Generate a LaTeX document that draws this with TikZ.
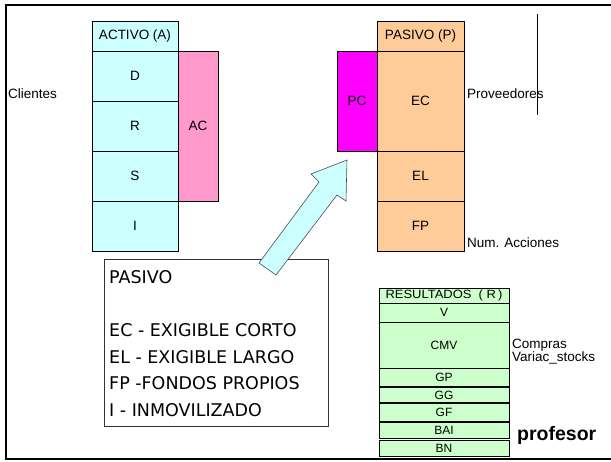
\documentclass[tikz,border=0pt]{standalone}
\usepackage{fontspec}
\setmainfont{Liberation Sans}
\newfontfamily\boxfont{DejaVu Sans}
\definecolor{acyan}{HTML}{CCFFFF}
\definecolor{apink}{HTML}{FF99CC}
\definecolor{amag}{HTML}{FF00FF}
\definecolor{aorange}{HTML}{FFCC99}
\definecolor{agreen}{HTML}{CCFFCC}
\tikzset{
  cell/.style={draw=black, line width=0.8pt, inner sep=0pt, outer sep=0pt, font=\fontsize{13.5}{15}\selectfont},
  rcell/.style={draw=black, line width=0.8pt, inner sep=0pt, outer sep=0pt, fill=agreen, minimum width=130pt, font=\fontsize{12}{13}\selectfont},
  lbl/.style={inner sep=0pt, anchor=west, font=\fontsize{13.5}{15}\selectfont},
  boxtxt/.style={inner sep=0pt, anchor=west, font=\boxfont\fontsize{17.5}{20}\selectfont},
}
\begin{document}
\begin{tikzpicture}[x=1pt,y=-1pt]
\useasboundingbox (0,0) rectangle (611,461);
\draw[line width=1.8pt] (6,5) rectangle (640,459);
% activo
\node[cell, fill=acyan, minimum width=86pt, minimum height=30pt] (ah) at (135,36) {ACTIVO (A)};
\node[cell, fill=acyan, minimum width=86pt, minimum height=50pt] (d) at (135,76) {D};
\node[cell, fill=acyan, minimum width=86pt, minimum height=50pt] (r) at (135,126) {R};
\node[cell, fill=acyan, minimum width=86pt, minimum height=50pt] (s) at (135,176) {S};
\node[cell, fill=acyan, minimum width=86pt, minimum height=50pt] (i) at (135,226) {I};
\node[cell, fill=apink, minimum width=40pt, minimum height=150pt] (ac) at (198,126) {AC};
% pasivo
\node[cell, fill=aorange, minimum width=87pt, minimum height=30pt] (ph) at (420.5,36) {PASIVO (P)};
\node[cell, fill=aorange, minimum width=87pt, minimum height=100pt] (ec) at (420.5,101) {EC};
\node[cell, fill=aorange, minimum width=87pt, minimum height=50pt] (el) at (420.5,176) {EL};
\node[cell, fill=aorange, minimum width=87pt, minimum height=50pt] (fp) at (420.5,226) {FP};
\node[cell, fill=amag, minimum width=40pt, minimum height=100pt] (pc) at (357,101) {PC};
% labels
\node[lbl] (cli) at (8,94) {Clientes};
\node[lbl] (prov) at (467,94) {Proveedores};
\node[lbl] (num) at (467,243) {Num. Acciones};
\node[lbl] (comp) at (512,345) {Compras};
\node[lbl] (var) at (512,358) {Variac\_stocks};
\node[inner sep=0pt, anchor=west, font=\fontsize{19.5}{22}\selectfont\bfseries] (prof) at (517,435) {profesor};
\coordinate (vt) at (537,14);
\coordinate (vb) at (537,115);
\draw[line width=0.8pt] (vt) -- (vb);
% resultados
\node[rcell, minimum height=15pt] (rh) at (444,295.5) {\scalebox{1.08}[1]{RESULTADOS\ \ ( R\,)}};
\node[rcell, minimum height=19pt] (rv) at (444,312.5) {V};
\node[rcell, minimum height=46pt] (rcmv) at (444,345) {CMV};
\node[rcell, minimum height=18pt] (rgp) at (444,377) {GP};
\node[rcell, minimum height=15pt] (rgg) at (444,395) {GG};
\node[rcell, minimum height=18pt] (rgf) at (444,412.5) {GF};
\node[rcell, minimum height=16pt] (rbai) at (444,430.5) {BAI};
\node[rcell, minimum height=16pt] (rbn) at (444,448) {BN};
% text box
\node[draw=black!80, line width=0.8pt, fill=white, minimum width=224pt, minimum height=167pt, inner sep=0pt] (tb) at (216,342.5) {};
\node[boxtxt] (t1) at (109,277) {PASIVO};
\node[boxtxt] (t2) at (109,330) {EC - EXIGIBLE CORTO};
\node[boxtxt] (t3) at (109,357) {EL - EXIGIBLE LARGO};
\node[boxtxt] (t4) at (109,383.5) {FP -FONDOS PROPIOS};
\node[boxtxt] (t5) at (109,410) {I - INMOVILIZADO};
% arrow
\draw[fill=acyan, draw=black!70, line width=0.6pt] (259,263) -- (319,182) -- (311,174) -- (347,160) -- (346,201) -- (337,195) -- (276,275) -- cycle;
\end{tikzpicture}
\end{document}
